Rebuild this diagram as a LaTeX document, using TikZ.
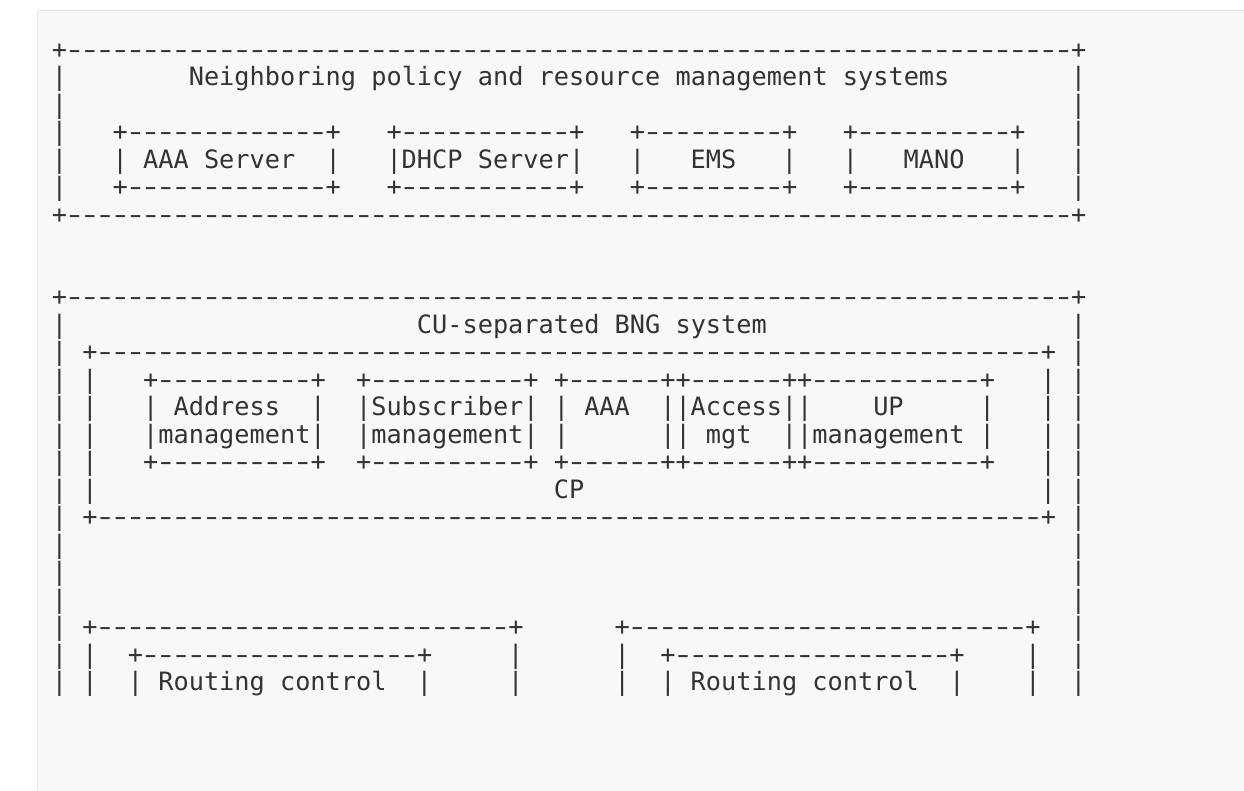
\documentclass[tikz,border=0pt]{standalone}
\usepackage{fontspec}
\newfontfamily\asciifont{DejaVu Sans Mono}[Ligatures=TeXOff]
\definecolor{ink}{HTML}{333333}
\definecolor{panel}{HTML}{F8F8F8}
\definecolor{panelrule}{HTML}{E6E6E6}
% one dash, a little wider, in its own cell
\newcommand\adash{\makebox[\fontcharwd\font`\-][c]{\scalebox{1.45}[1]{-}}}
% a run of #1 dashes
\newcommand\dashrun[1]{\ifnum#1>0 \adash\expandafter\dashrun\expandafter{\number\numexpr#1-1\relax}\fi}

\begin{document}
\begin{tikzpicture}[x=1pt,y=-1pt,
    ascii/.style={font=\asciifont\fontsize{25.27pt}{27.5pt}\selectfont,text=ink,inner sep=0pt,anchor=base west}]
  \useasboundingbox (0,0) rectangle (1244,790);
  \fill[white] (0,0) rectangle (1244,790);
  \filldraw[fill=panel,draw=panelrule] (37.5,10.5) rectangle (1250,800);

  \begin{scope}[shift={(51.7,58.4)},x=15.21pt,y=-27.5pt]
    % neighboring systems
    \node[ascii] (nbr-t) at (0,0) {+\dashrun{66}+};
    \node[ascii] (nbr-b) at (0,6) {+\dashrun{66}+};
    \foreach \r in {1,...,5} {
      \node[ascii] at (0,\r) {|};
      \node[ascii] at (67,\r) {|};
    }
    \node[ascii] (nbr) at (9,1) {Neighboring policy and resource management systems};
    \foreach \l/\n/\name in {4/13/aaasrv, 22/11/dhcp, 38/9/ems, 52/10/mano} {
      \node[ascii] (\name-t) at (\l,3) {+\dashrun{\n}+};
      \node[ascii] (\name-b) at (\l,5) {+\dashrun{\n}+};
      \node[ascii] at (\l,4) {|};
      \node[ascii] at (\l+\n+1,4) {|};
    }
    \node[ascii] (aaasrv) at (6,4) {AAA Server};
    \node[ascii] (dhcp) at (23,4) {DHCP Server};
    \node[ascii] (ems) at (42,4) {EMS};
    \node[ascii] (mano) at (56,4) {MANO};

    % CU-separated BNG
    \node[ascii] (bng-t) at (0,9) {+\dashrun{66}+};
    \foreach \r in {10,...,23} {
      \node[ascii] at (0,\r) {|};
      \node[ascii] at (67,\r) {|};
    }
    \node[ascii] (bng) at (24,10) {CU-separated BNG system};

    % CP
    \node[ascii] (cp-t) at (2,11) {+\dashrun{62}+};
    \node[ascii] (cp-b) at (2,17) {+\dashrun{62}+};
    \foreach \r in {12,...,16} {
      \node[ascii] at (2,\r) {|};
      \node[ascii] at (65,\r) {|};
    }
    \node[ascii] (cp) at (33,16) {CP};
    \foreach \l/\n/\name in {6/10/addr, 20/10/subs, 33/6/auth, 41/6/acc, 49/11/upm} {
      \node[ascii] (\name-t) at (\l,12) {+\dashrun{\n}+};
      \node[ascii] (\name-b) at (\l,15) {+\dashrun{\n}+};
      \foreach \r in {13,14} {
        \node[ascii] at (\l,\r) {|};
        \node[ascii] at (\l+\n+1,\r) {|};
      }
    }
    \node[ascii] (addr) at (8,13) {Address};
    \node[ascii] (addr-2) at (7,14) {management};
    \node[ascii] (subs) at (21,13) {Subscriber};
    \node[ascii] (subs-2) at (21,14) {management};
    \node[ascii] (auth) at (35,13) {AAA};
    \node[ascii] (acc) at (42,13) {Access};
    \node[ascii] (acc-2) at (43,14) {mgt};
    \node[ascii] (upm) at (54,13) {UP};
    \node[ascii] (upm-2) at (50,14) {management};

    % UPs
    \foreach \l/\n/\name in {2/27/up1, 37/26/up2} {
      \node[ascii] (\name) at (\l,21) {+\dashrun{\n}+};
      \foreach \r in {22,23} {
        \node[ascii] at (\l,\r) {|};
        \node[ascii] at (\l+\n+1,\r) {|};
      }
    }
    \foreach \l/\name in {5/rc1, 40/rc2} {
      \node[ascii] (\name-t) at (\l,22) {+\dashrun{18}+};
      \node[ascii] at (\l,23) {|};
      \node[ascii] at (\l+19,23) {|};
      \node[ascii] (\name) at (\l+2,23) {Routing control};
    }
  \end{scope}
\end{tikzpicture}
\end{document}
